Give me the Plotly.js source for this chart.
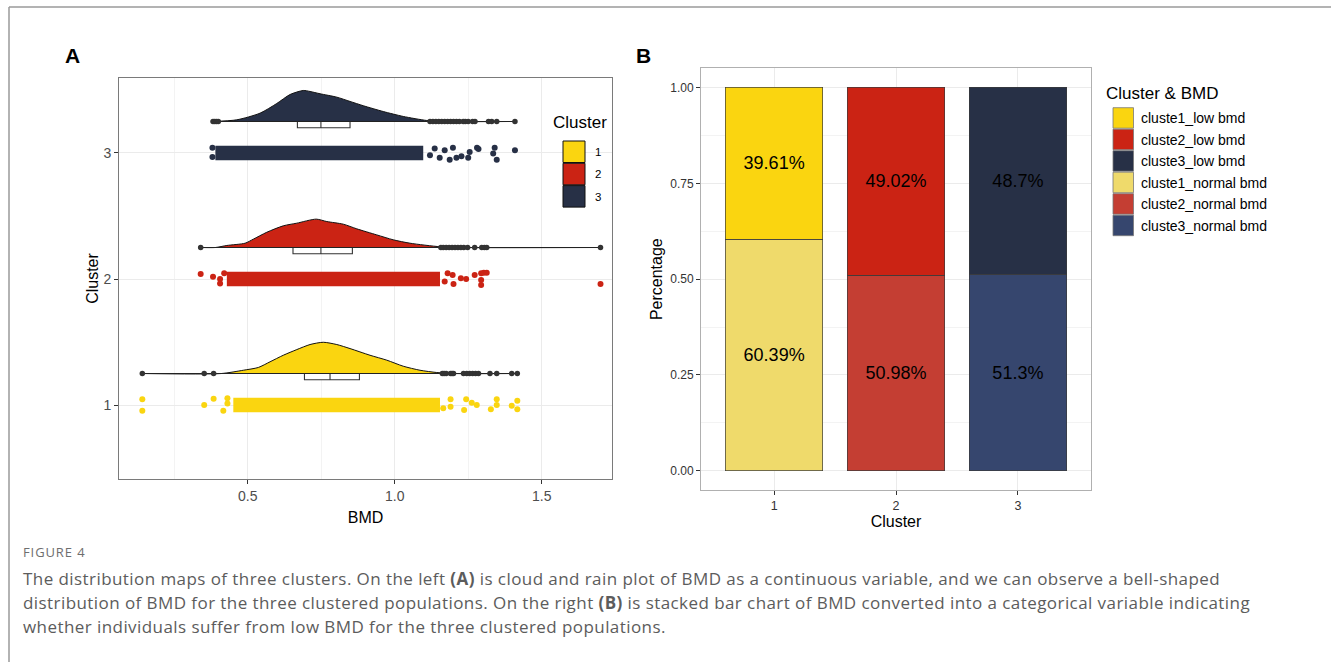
<!DOCTYPE html>
<html>
<head>
<meta charset="utf-8">
<script src="https://cdn.plot.ly/plotly-3.0.1.min.js"></script>
<style>html,body{margin:0;padding:0;background:#fff;}#chart{width:1331px;height:662px;}</style>
</head>
<body>
<div id="chart"></div>
<script>
// ---------- Panel A data ----------
const clusters = [1, 2, 3];
const bmdTicks = [0.5, 1.0, 1.5];

// half-violin density outline (x = BMD, h = height in cluster units)
const densX1 = [0.1415, 0.41, 0.485, 0.536, 0.576, 0.621, 0.667, 0.712, 0.757, 0.803, 0.848, 0.916, 0.973, 1.029, 1.086, 1.143, 1.20, 1.417];
const densH1 = [0, 0, 0.026, 0.048, 0.093, 0.145, 0.19, 0.23, 0.248, 0.23, 0.198, 0.145, 0.106, 0.058, 0.026, 0.008, 0, 0];
const densX2 = [0.34, 0.39, 0.429, 0.491, 0.519, 0.565, 0.621, 0.667, 0.733, 0.769, 0.825, 0.871, 0.939, 0.995, 1.052, 1.154, 1.22, 1.70];
const densH2 = [0, 0, 0.016, 0.034, 0.066, 0.121, 0.172, 0.193, 0.225, 0.206, 0.185, 0.148, 0.1, 0.061, 0.034, 0.006, 0, 0];
const densX3 = [0.38, 0.4625, 0.542, 0.599, 0.644, 0.689, 0.712, 0.746, 0.803, 0.848, 0.893, 0.961, 1.029, 1.109, 1.17, 1.409];
const densH3 = [0, 0.013, 0.066, 0.143, 0.214, 0.246, 0.238, 0.22, 0.193, 0.159, 0.125, 0.079, 0.04, 0.008, 0, 0];

// boxplot summaries
const boxQ1 = [0.693, 0.654, 0.669];
const boxMedian = [0.780, 0.749, 0.749];
const boxQ3 = [0.880, 0.856, 0.848];
const boxLowerFence = [0.42, 0.355, 0.40];
const boxUpperFence = [1.16, 1.155, 1.115];

// boxplot outliers
const outliers1 = [0.1415, 0.352, 0.384, 1.162, 1.168, 1.175, 1.19, 1.195, 1.20, 1.234, 1.245, 1.255, 1.265, 1.275, 1.285, 1.324, 1.347, 1.398, 1.417];
const outliers2 = [0.34, 1.157, 1.165, 1.175, 1.185, 1.195, 1.205, 1.215, 1.225, 1.235, 1.248, 1.272, 1.296, 1.305, 1.313, 1.70];
const outliers3 = [0.382, 0.388, 0.394, 0.40, 1.12, 1.13, 1.14, 1.15, 1.16, 1.17, 1.18, 1.19, 1.20, 1.21, 1.22, 1.233, 1.24, 1.25, 1.265, 1.273, 1.319, 1.33, 1.347, 1.409];

// rain: dense band extent and the sparse jittered points at its ends
const bandStart = [0.451, 0.429, 0.39];
const bandEnd = [1.154, 1.154, 1.097];
const rainX1 = [0.1415, 0.1415, 0.352, 0.384, 0.417, 0.431, 0.431, 1.165, 1.19, 1.19, 1.236, 1.243, 1.262, 1.279, 1.327, 1.347, 1.347, 1.398, 1.417, 1.417];
const rainJ1 = [0.045, -0.045, 0, 0.05, -0.045, 0.053, 0.013, -0.026, 0.045, -0.013, -0.04, 0.045, 0.018, 0, -0.034, 0.045, 0, -0.005, 0.034, -0.034];
const rainX2 = [0.34, 0.382, 0.406, 0.406, 0.42, 1.17, 1.18, 1.197, 1.2, 1.225, 1.243, 1.272, 1.294, 1.294, 1.294, 1.303, 1.313, 1.70];
const rainJ2 = [0.04, 0.018, 0, -0.035, 0.045, -0.02, 0.045, 0.032, -0.04, 0.005, 0, 0.032, 0.045, -0.008, -0.048, 0.05, 0.05, -0.04];
const rainX3 = [0.38, 0.38, 1.12, 1.136, 1.153, 1.17, 1.187, 1.198, 1.21, 1.227, 1.25, 1.255, 1.28, 1.285, 1.335, 1.34, 1.347, 1.409];
const rainJ3 = [0.042, -0.032, -0.018, 0.035, -0.037, 0.021, -0.053, 0.042, -0.037, -0.026, -0.037, 0.008, 0.042, 0.032, -0.005, 0.042, -0.053, 0.021];

// ---------- Panel B data ----------
const barCategories = [1, 2, 3];
const lowPct = [39.61, 49.02, 48.7];
const normalPct = [60.39, 50.98, 51.3];
const legendBLabels = ['cluste1_low bmd', 'cluste2_low bmd', 'cluste3_low bmd', 'cluste1_normal bmd', 'cluste2_normal bmd', 'cluste3_normal bmd'];

// ---------- caption ----------
const captionHead = 'FIGURE 4';
const captionLines = [
  'The distribution maps of three clusters. On the left <b>(A)</b> is cloud and rain plot of BMD as a continuous variable, and we can observe a bell-shaped',
  'distribution of BMD for the three clustered populations. On the right <b>(B)</b> is stacked bar chart of BMD converted into a categorical variable indicating',
  'whether individuals suffer from low BMD for the three clustered populations.'
];

// ---------- styles ----------
const W = 1331, H = 662;
const px = x => x / W, py = y => 1 - y / H;
const FONT = 'Liberation Sans, Arial, sans-serif';
const clusterColors = ['#FAD510', '#CB2314', '#273046'];
const normalColors = ['#EFDA6B', '#C43E33', '#36466E'];
const outlierColor = '#333333';

const densX = [densX1, densX2, densX3], densH = [densH1, densH2, densH3];
const outliers = [outliers1, outliers2, outliers3];
const rainX = [rainX1, rainX2, rainX3], rainJ = [rainJ1, rainJ2, rainJ3];

const traces = [];
const bandHalf = 0.058;
const boxOffset = 0.25;

clusters.forEach((k, i) => {
  const base = k + boxOffset;
  const xs = densX[i];
  traces.push({type: 'scatter', mode: 'lines', x: [xs[0], xs[xs.length - 1]], y: [base, base],
    line: {width: 0, color: 'rgba(0,0,0,0)'}, hoverinfo: 'skip', showlegend: false, xaxis: 'x', yaxis: 'y'});
  traces.push({type: 'scatter', mode: 'lines', x: xs, y: densH[i].map(h => base + h), fill: 'tonexty',
    fillcolor: clusterColors[i], line: {color: '#111', width: 1, shape: 'spline', smoothing: 0.7},
    hoverinfo: 'skip', showlegend: false, xaxis: 'x', yaxis: 'y'});
  traces.push({type: 'scatter', mode: 'lines', x: [xs[0], xs[xs.length - 1]], y: [base, base],
    line: {width: 1.1, color: '#222'}, hoverinfo: 'skip', showlegend: false, xaxis: 'x', yaxis: 'y'});
  traces.push({type: 'scatter', mode: 'markers', x: outliers[i], y: outliers[i].map(() => base),
    marker: {color: outlierColor, size: 5.5}, hoverinfo: 'skip', showlegend: false, xaxis: 'x', yaxis: 'y'});
  traces.push({type: 'scatter', mode: 'lines', x: [bandStart[i], bandEnd[i], bandEnd[i], bandStart[i], bandStart[i]],
    y: [k - bandHalf, k - bandHalf, k + bandHalf, k + bandHalf, k - bandHalf], fill: 'toself',
    fillcolor: clusterColors[i], line: {width: 0, color: clusterColors[i]}, hoverinfo: 'skip', showlegend: false, xaxis: 'x', yaxis: 'y'});
  traces.push({type: 'scatter', mode: 'markers', x: rainX[i], y: rainJ[i].map(j => k + j),
    marker: {color: clusterColors[i], size: 6}, hoverinfo: 'skip', showlegend: false, xaxis: 'x', yaxis: 'y'});
});
clusters.forEach((k, i) => {
  traces.push({type: 'box', orientation: 'h', y: [k + boxOffset], q1: [boxQ1[i]], median: [boxMedian[i]], q3: [boxQ3[i]],
    lowerfence: [boxLowerFence[i]], upperfence: [boxUpperFence[i]], width: 0.1, whiskerwidth: 0,
    fillcolor: '#ffffff', line: {color: '#333', width: 1.1}, boxpoints: false, hoverinfo: 'skip', showlegend: false,
    xaxis: 'x', yaxis: 'y'});
});

// Panel B bars
const fmt = v => String(+v.toFixed(2)) + '%';
traces.push({type: 'bar', x: barCategories, y: normalPct.map(v => v / 100), width: 0.8,
  marker: {color: normalColors, line: {color: '#3a3a3a', width: 0.7}},
  text: normalPct.map(fmt), textposition: 'inside', insidetextanchor: 'middle', textangle: 0,
  textfont: {family: FONT, size: 18, color: '#000'}, constraintext: 'none',
  hoverinfo: 'skip', showlegend: false, xaxis: 'x2', yaxis: 'y2'});
traces.push({type: 'bar', x: barCategories, y: lowPct.map(v => v / 100), width: 0.8,
  marker: {color: clusterColors, line: {color: '#3a3a3a', width: 0.7}},
  text: lowPct.map(fmt), textposition: 'inside', insidetextanchor: 'middle', textangle: 0,
  textfont: {family: FONT, size: 18, color: '#000'}, constraintext: 'none',
  hoverinfo: 'skip', showlegend: false, xaxis: 'x2', yaxis: 'y2'});

// ---------- layout ----------
const grid = '#ebebeb';
const axCommon = {showline: true, mirror: true, ticks: 'outside', ticklen: 4, tickwidth: 1, tickcolor: '#333',
  zeroline: false, showgrid: true, gridcolor: grid, gridwidth: 1, fixedrange: true,
  tickfont: {family: FONT, size: 14, color: '#4d4d4d'}};

const xA0 = 119, xA1 = 612, pxPerUnit = 294, xMinA = 0.0622;
const shapes = [
  {type: 'line', xref: 'paper', yref: 'paper', x0: px(9), x1: 1, y0: py(7), y1: py(7), line: {color: '#9a9a9a', width: 1.5}},
  {type: 'line', xref: 'paper', yref: 'paper', x0: px(9), x1: px(9), y0: py(7), y1: 0, line: {color: '#9a9a9a', width: 1.5}}
];
const annotations = [];

// Legend A (manual)
annotations.push({xref: 'paper', yref: 'paper', x: px(551), y: py(123), xanchor: 'left', yanchor: 'middle',
  text: 'Cluster', showarrow: false, font: {family: FONT, size: 17, color: '#000'}});
clusters.forEach((k, i) => {
  const top = 141 + i * 22.3;
  shapes.push({type: 'rect', xref: 'paper', yref: 'paper', x0: px(563), x1: px(585), y0: py(top), y1: py(top + 21.5),
    fillcolor: clusterColors[i], line: {color: '#111', width: 1}});
  annotations.push({xref: 'paper', yref: 'paper', x: px(593), y: py(top + 11), xanchor: 'left', yanchor: 'middle',
    text: String(k), showarrow: false, font: {family: FONT, size: 11.5, color: '#000'}});
});

// Legend B (manual)
annotations.push({xref: 'paper', yref: 'paper', x: px(1104), y: py(93), xanchor: 'left', yanchor: 'middle',
  text: 'Cluster & BMD', showarrow: false, font: {family: FONT, size: 17, color: '#000'}});
const legendBColors = clusterColors.concat(normalColors);
legendBLabels.forEach((lab, i) => {
  const top = 107.7 + i * 21.5;
  shapes.push({type: 'rect', xref: 'paper', yref: 'paper', x0: px(1113), x1: px(1133.5), y0: py(top), y1: py(top + 20.5),
    fillcolor: legendBColors[i], line: {color: '#777', width: 0.8}});
  annotations.push({xref: 'paper', yref: 'paper', x: px(1139), y: py(top + 10.5), xanchor: 'left', yanchor: 'middle',
    text: lab, showarrow: false, font: {family: FONT, size: 14, color: '#000'}});
});

// panel letters
annotations.push({xref: 'paper', yref: 'paper', x: px(72), y: py(55), xanchor: 'center', yanchor: 'middle',
  text: '<b>A</b>', showarrow: false, font: {family: FONT, size: 21, color: '#000'}});
annotations.push({xref: 'paper', yref: 'paper', x: px(643), y: py(55), xanchor: 'center', yanchor: 'middle',
  text: '<b>B</b>', showarrow: false, font: {family: FONT, size: 21, color: '#000'}});

// caption
const CAPFONT = 'Open Sans, Lato, sans-serif';
annotations.push({xref: 'paper', yref: 'paper', x: px(21), y: py(552), xanchor: 'left', yanchor: 'middle',
  text: '<span style="letter-spacing:0.9px">' + captionHead + '</span>', showarrow: false,
  font: {family: CAPFONT, size: 13, color: '#6e6e6e'}});
captionLines.forEach((t, i) => {
  annotations.push({xref: 'paper', yref: 'paper', x: px(21), y: py(578 + i * 24), xanchor: 'left', yanchor: 'middle',
    text: '<span style="letter-spacing:0.43px">' + t + '</span>', showarrow: false,
    font: {family: CAPFONT, size: 17, color: '#5c5c5c'}});
});

const layout = {
  width: W, height: H, margin: {l: 0, r: 0, t: 0, b: 0}, paper_bgcolor: '#fff', plot_bgcolor: '#fff',
  showlegend: false, boxmode: 'overlay', barmode: 'stack', font: {family: FONT},
  xaxis: Object.assign({}, axCommon, {domain: [px(xA0), px(xA1)], range: [xMinA, xMinA + (xA1 - xA0) / pxPerUnit],
    tickvals: bmdTicks, tickformat: '.1f', linecolor: '#7a7a7a', linewidth: 1,
    minor: {showgrid: true, gridcolor: grid, gridwidth: 0.6, tickvals: [0.25, 0.75, 1.25]},
    title: {text: 'BMD', font: {family: FONT, size: 16, color: '#000'}, standoff: 9}, anchor: 'y'}),
  yaxis: Object.assign({}, axCommon, {domain: [py(479), py(78)], range: [0.413, 3.595], tickvals: clusters,
    linecolor: '#7a7a7a', linewidth: 1,
    title: {text: 'Cluster', font: {family: FONT, size: 16, color: '#000'}, standoff: 0}, anchor: 'x'}),
  xaxis2: Object.assign({}, axCommon, {domain: [px(701), px(1091)], range: [0.4, 3.6], tickvals: barCategories,
    linecolor: '#b0b0b0', linewidth: 1, tickfont: {family: FONT, size: 12.5, color: '#333'},
    title: {text: 'Cluster', font: {family: FONT, size: 16, color: '#000'}, standoff: 0}, anchor: 'y2'}),
  yaxis2: Object.assign({}, axCommon, {domain: [py(490), py(68.3)], range: [-0.05, 1.05],
    tickvals: [0, 0.25, 0.5, 0.75, 1], tickformat: '.2f', linecolor: '#b0b0b0', linewidth: 1,
    tickfont: {family: FONT, size: 12, color: '#333'},
    minor: {showgrid: true, gridcolor: grid, gridwidth: 0.6, tickvals: [0.125, 0.375, 0.625, 0.875]},
    title: {text: 'Percentage', font: {family: FONT, size: 16, color: '#000'}, standoff: 3}, anchor: 'x2'}),
  shapes: shapes,
  annotations: annotations
};

Plotly.newPlot('chart', traces, layout, {displayModeBar: false, staticPlot: true});
</script>
</body>
</html>
